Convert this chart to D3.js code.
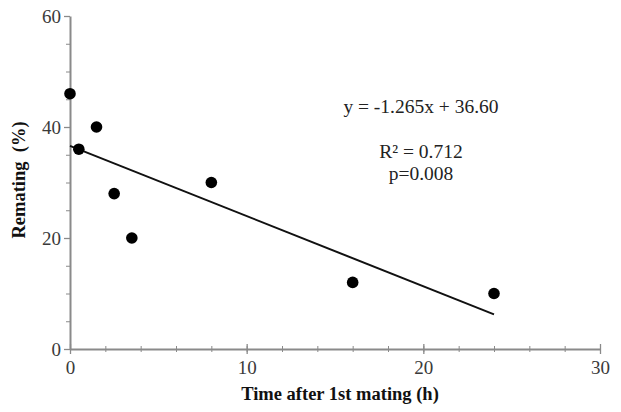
<!DOCTYPE html>
<html>
<head>
<meta charset="utf-8">
<script src="https://cdn.jsdelivr.net/npm/d3@7"></script>
<style>
  body { margin: 0; background: #fff; }
  svg text { font-family: "Liberation Serif", "Times New Roman", serif !important; }
</style>
</head>
<body>
<script>
// data
var hours = [0, 0.5, 1.5, 2.5, 3.5, 8, 16, 24];
var remating = [46, 36, 40, 28, 20, 30, 12, 10];
var slope = -1.265, intercept = 36.60;
var fitRange = [0, 24];
var xTicks = [0, 10, 20, 30];
var yTicks = [0, 20, 40, 60];
var annotations = ["y = -1.265x + 36.60", "R\u00b2 = 0.712", "p=0.008"];

var W = 621, H = 412;
var svg = d3.select("body").append("svg")
            .attr("width", W)
            .attr("height", H);

var x = d3.scaleLinear().domain([0, 30]).range([70, 600]);
var y = d3.scaleLinear().domain([0, 60]).range([349, 16]);

var axisColor = "#8a8a8a";
var serif = "'Liberation Serif', 'Times New Roman', serif";

// minor ticks
var xMinor = d3.axisBottom(x).tickValues(d3.range(0, 31, 2)).tickSize(3).tickFormat("");
var gxm = svg.append("g").attr("transform", "translate(0," + y(0) + ")").call(xMinor);
gxm.selectAll(".tick line").attr("stroke", axisColor).attr("y1", -3);
gxm.select(".domain").remove();

var yMinor = d3.axisLeft(y).tickValues(d3.range(0, 61, 5)).tickSize(4).tickFormat("");
var gym = svg.append("g").attr("transform", "translate(" + x(0) + ",0)").call(yMinor);
gym.selectAll(".tick line").attr("stroke", axisColor);
gym.select(".domain").remove();

// major axes
var gx = svg.append("g").attr("transform", "translate(0," + y(0) + ")")
            .call(d3.axisBottom(x).tickValues(xTicks).tickSize(5).tickSizeOuter(0).tickPadding(7));
gx.attr("font-family", serif).attr("font-size", 19);
gx.selectAll(".tick line").attr("stroke", axisColor).attr("y1", -5).attr("stroke-width", 1.3);
gx.select(".domain").attr("stroke", axisColor).attr("stroke-width", 2);
gx.selectAll("text").style("font-size", "19px").attr("fill", "#3a3a3a");

var gy = svg.append("g").attr("transform", "translate(" + x(0) + ",0)")
            .call(d3.axisLeft(y).tickValues(yTicks).tickSize(6).tickSizeOuter(0).tickPadding(3));
gy.attr("font-family", serif).attr("font-size", 19);
gy.selectAll(".tick line").attr("stroke", axisColor).attr("stroke-width", 1.3);
gy.select(".domain").attr("stroke", axisColor).attr("stroke-width", 2);
gy.selectAll("text").style("font-size", "19px").attr("fill", "#3a3a3a");

// regression line
var fit = fitRange.map(function (h) { return [h, intercept + slope * h]; });
svg.append("path")
   .datum(fit)
   .attr("d", d3.line().x(function (d) { return x(d[0]); }).y(function (d) { return y(d[1]); }))
   .attr("stroke", "#111")
   .attr("stroke-width", 2)
   .attr("fill", "none");

// points
svg.selectAll("circle")
   .data(hours)
   .enter()
   .append("circle")
   .attr("cx", function (d) { return x(d); })
   .attr("cy", function (d, i) { return y(remating[i]); })
   .attr("r", 5.8)
   .attr("fill", "#000");

// annotations
svg.append("text").attr("x", 421).attr("y", 113).attr("text-anchor", "middle")
   .attr("font-size", "19.5px").attr("fill", "#222").text(annotations[0]);
svg.append("text").attr("x", 421).attr("y", 158).attr("text-anchor", "middle")
   .attr("font-size", "19.5px").attr("fill", "#222").text(annotations[1]);
svg.append("text").attr("x", 421).attr("y", 180).attr("text-anchor", "middle")
   .attr("font-size", "19.5px").attr("fill", "#222").text(annotations[2]);

// axis titles
svg.append("text").attr("x", 340).attr("y", 400).attr("text-anchor", "middle")
   .attr("font-size", "18.5px").attr("font-weight", "bold").attr("fill", "#111")
   .text("Time after 1st mating (h)");
svg.append("text").attr("transform", "translate(25,180) rotate(-90)")
   .attr("text-anchor", "middle").attr("font-size", "18.5px").attr("font-weight", "bold")
   .attr("fill", "#111").style("white-space", "pre")
   .text("Remating  (%)");
</script>
</body>
</html>
